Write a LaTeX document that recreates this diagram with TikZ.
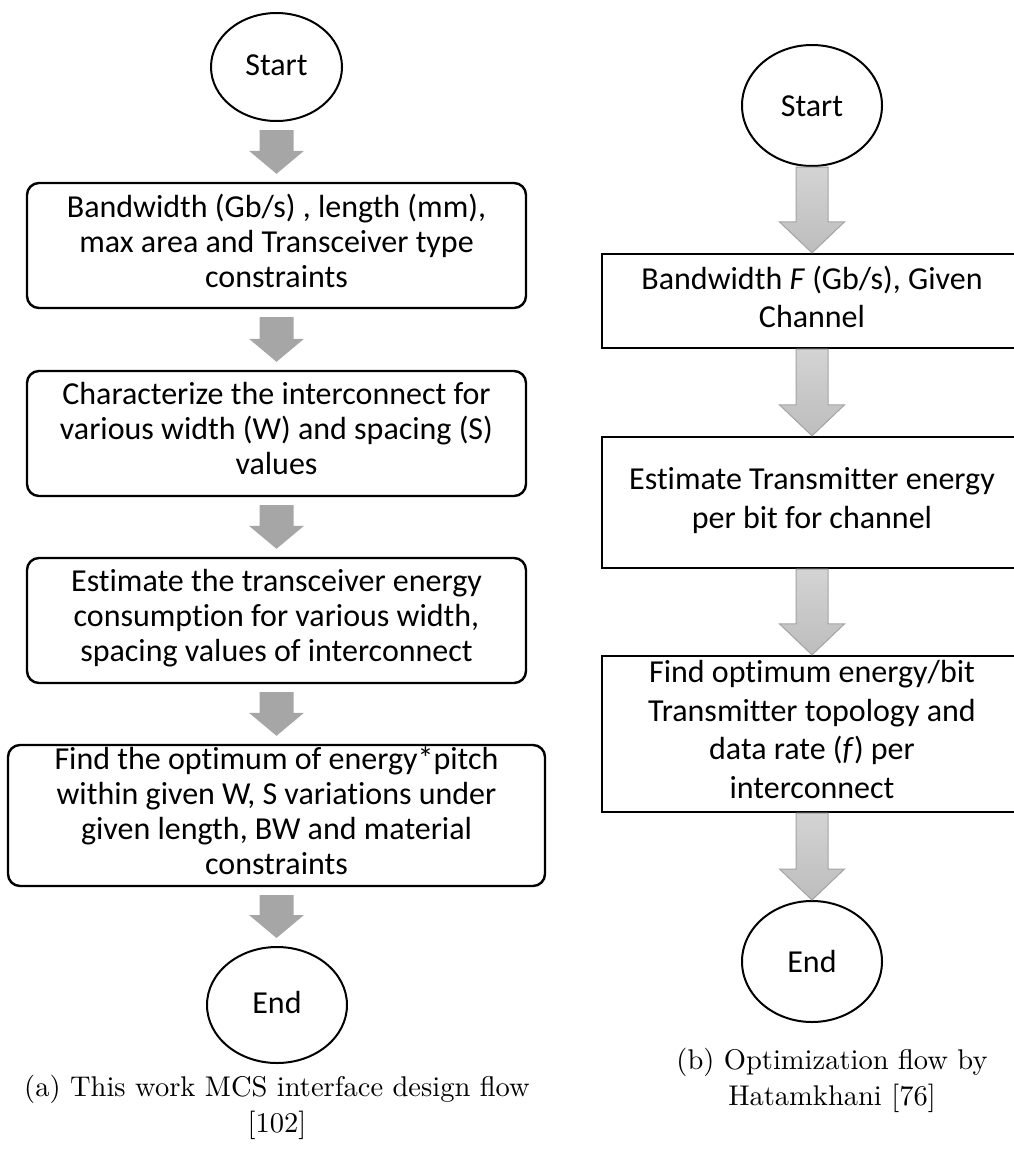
\documentclass[tikz,border=0pt]{standalone}
\usepackage{fontspec}
\usepackage{tikz}
\usetikzlibrary{shapes.geometric,calc}

\newfontfamily\boxfont{Carlito}[Ligatures=CommonOff]
\newcommand{\lstrut}{\rule[-9.5pt]{0pt}{35pt}}
\newcommand{\rstrut}{\rule[-8.75pt]{0pt}{38.5pt}}

\newcommand{\grayarrow}[2]{%
\fill[color=black!35!white] let \p1=(#1.south), \p2=(#2.north) in
(\x1-17pt,\y1-8pt)--(\x1+17pt,\y1-8pt)--(\x1+17pt,\y2+31pt)--(\x1+27.5pt,\y2+31pt)
--(\x1,\y2+8pt)--(\x1-27.5pt,\y2+31pt)--(\x1-17pt,\y2+31pt)--cycle;
}
\newcommand{\shadearrow}[2]{%
\draw[color=black!36!white, line width=1pt, top color=black!17!white, bottom color=black!26!white]
let \p1=(#1.south), \p2=(#2.north) in
(\x1-16pt,\y1)--(\x1+16pt,\y1)--(\x1+16pt,\y2+31pt)--(\x1+32.5pt,\y2+31pt)
--(\x1,\y2)--(\x1-32.5pt,\y2+31pt)--(\x1-16pt,\y2+31pt)--cycle;
}

\tikzset{
  texta/.style={font=\boxfont\fontsize{32}{35}\selectfont, execute at begin node=\lstrut, execute at end node=\lstrut},
  textb/.style={font=\boxfont\fontsize{32}{38.5}\selectfont, execute at begin node=\rstrut, execute at end node=\rstrut},
  terma/.style={draw, ellipse, line width=2pt, inner sep=0pt, texta},
  termb/.style={draw, ellipse, line width=2pt, inner sep=0pt, textb},
  boxa/.style={draw, rounded corners=12pt, line width=2.4pt, minimum width=499pt, minimum height=125pt, inner sep=0pt, align=center, texta},
  boxb/.style={draw, line width=2.3pt, minimum width=420pt, inner sep=0pt, align=center, textb},
  caption/.style={align=center, inner sep=0pt, font=\fontsize{10}{12.3}\selectfont, scale=2.85, transform shape}
}

\begin{document}
\begin{tikzpicture}[x=1pt,y=-1pt]
\useasboundingbox (0,0) rectangle (1014,1149);
\clip (0,0) rectangle (1014,1149);

\node[terma, minimum width=131pt, minimum height=108pt] (starta) at (276.5,67) {Start};
\node[boxa] (a1) at (276.5,245.5) {Bandwidth (Gb/s) , length (mm),\\max area and Transceiver type\\constraints};
\node[boxa] (a2) at (276.5,433.5) {Characterize the interconnect for\\various width (W) and spacing (S)\\values};
\node[boxa] (a3) at (276.5,620.5) {Estimate the transceiver energy\\consumption for various width,\\spacing values of interconnect};
\node[boxa, minimum width=537pt, minimum height=141pt] (a4) at (276.5,815.5) {Find the optimum of energy*pitch\\within given W, S variations under\\given length, BW and material\\constraints};
\node[terma, minimum width=140pt, minimum height=116pt] (enda) at (277,1005) {End};

\grayarrow{starta}{a1}
\grayarrow{a1}{a2}
\grayarrow{a2}{a3}
\grayarrow{a3}{a4}
\grayarrow{a4}{enda}

\node[termb, minimum width=140pt, minimum height=121pt] (startb) at (812,105.5) {Start};
\node[boxb, minimum height=94pt] (b1) at (812,301) {Bandwidth \textit{F} (Gb/s), Given\\Channel};
\node[boxb, minimum height=131pt] (b2) at (812,502.5) {Estimate Transmitter energy\\per bit for channel};
\node[boxb, minimum height=156pt] (b3) at (812,734) {Find optimum energy/bit\\Transmitter topology and\\data rate (\textit{f}) per\\interconnect};
\node[termb, minimum width=140pt, minimum height=121pt] (endb) at (812,961.5) {End};

\shadearrow{startb}{b1}
\shadearrow{b1}{b2}
\shadearrow{b2}{b3}
\shadearrow{b3}{endb}

\node[caption] (capa) at (277,1107.5) {\strut(a) This work MCS interface design flow\\{}[102]\strut};
\node[caption] (capb) at (832,1080.5) {\strut(b) Optimization flow by\\Hatamkhani [76]\strut};
\end{tikzpicture}
\end{document}
